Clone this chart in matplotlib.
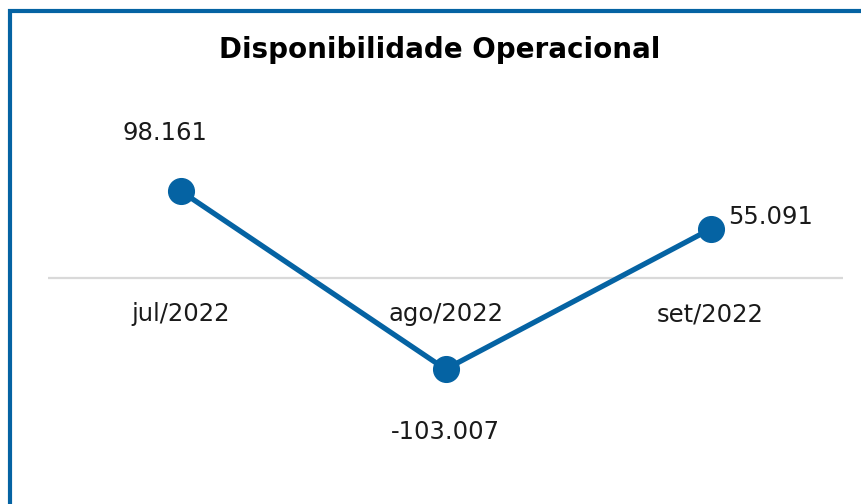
import matplotlib.pyplot as plt
from matplotlib.patches import Rectangle

meses = ["jul/2022", "ago/2022", "set/2022"]
valores = [98.161, -103.007, 55.091]
rotulos = ["98.161", "-103.007", "55.091"]
# deslocamento dos rotulos (pontos)
desloc = [(-11, 42), (0, -45), (43, 9)]

azul = "#0563a3"

fig = plt.figure(figsize=(8.61, 5.04), dpi=100)
ax = fig.add_axes([48 / 861, 24 / 504, 795 / 861, 390 / 504])

x = list(range(len(meses)))
ax.plot(x, valores, color=azul, linewidth=3.8, marker="o", markersize=18.5, zorder=3)

for xi, v, txt, d in zip(x, valores, rotulos, desloc):
    ax.annotate(txt, (xi, v), xytext=d, textcoords="offset points",
                ha="center", va="center", fontsize=17.5, color="#1a1a1a")

ax.set_xlim(-0.5, 2.5)
ax.set_ylim(-228, 212)
ax.axhline(0, color="#d9d9d9", linewidth=1.6, zorder=1)
ax.set_xticks([])
ax.set_yticks([])
for s in ax.spines.values():
    s.set_visible(False)

# rotulos do eixo x logo abaixo da linha do zero
for xi, m in zip(x, meses):
    ax.annotate(m, (xi, 0), xytext=(0, -26), textcoords="offset points",
                ha="center", va="center", fontsize=17.5, color="#1a1a1a")

fig.text(440 / 861, 1 - 50 / 504, "Disponibilidade Operacional", ha="center", va="center",
         fontsize=20, fontweight="bold", color="black")

# moldura azul
fig.patches.append(Rectangle((10 / 861, -0.1), 1.2, 1 - 10.5 / 504 + 0.1,
                             transform=fig.transFigure, fill=False,
                             edgecolor=azul, linewidth=3))

fig.savefig("out.png", dpi=100)
